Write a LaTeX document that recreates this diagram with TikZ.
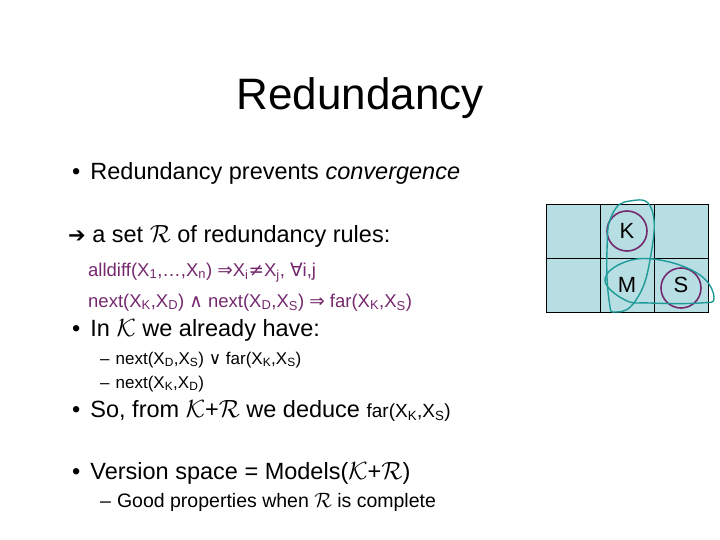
\documentclass[tikz,border=0pt]{standalone}
\usepackage{fontspec}
\setmainfont{Liberation Sans}
\newfontfamily\dv{DejaVu Sans}
\definecolor{pur}{HTML}{74296E}
\definecolor{teal2}{HTML}{1E9A98}
\definecolor{cellb}{HTML}{B7DEE3}
\newcommand{\cR}{$\mathcal{R}$}
\newcommand{\cK}{$\mathcal{K}$}
\begin{document}
\begin{tikzpicture}[x=1pt,y=-1pt,
  txt/.style={anchor=base west,inner sep=0pt,font=\fontsize{23.5}{26}\selectfont},
  rule/.style={anchor=base west,inner sep=0pt,text=pur,font=\fontsize{18.5}{21}\selectfont},
  sub/.style={anchor=base west,inner sep=0pt,font=\fontsize{17}{20}\selectfont},
  cell/.style={draw=black,fill=cellb,minimum size=54pt,inner sep=0pt,font=\fontsize{22}{24}\selectfont},
  ring/.style={draw=pur,line width=1.6pt,circle,minimum size=40pt}]
\useasboundingbox (0,0) rectangle (720,540);
\node[anchor=base,inner sep=0pt,font=\fontsize{44}{48}\selectfont] (title) at (360,110) {Redundancy};
\node[txt] (b1) at (72,180) {•\hspace{10pt}Redundancy prevents \textit{convergence}};
\node[txt] (b2) at (68,242) {{\dv\fontsize{21}{22}\selectfont ➔} a set \cR\ of redundancy rules:};
\node[rule] (r1) at (88,276) {alldiff(X\textsubscript{1},…,X\textsubscript{n}) {\dv⇒}X\textsubscript{i}{\dv≠}X\textsubscript{j},\ {\dv∀}i,j};
\node[rule] (r2) at (88,307) {next(X\textsubscript{K},X\textsubscript{D}) {\dv∧} next(X\textsubscript{D},X\textsubscript{S}) {\dv⇒} far(X\textsubscript{K},X\textsubscript{S})};
\node[txt] (b3) at (72,336) {•\hspace{10pt}In \cK\ we already have:};
\node[sub] (s1) at (100,364) {–\hspace{6pt}next(X\textsubscript{D},X\textsubscript{S}) {\dv∨} far(X\textsubscript{K},X\textsubscript{S})};
\node[sub] (s2) at (100,388) {–\hspace{6pt}next(X\textsubscript{K},X\textsubscript{D})};
\node[txt] (b4) at (72,417) {•\hspace{10pt}So,\ from \cK+\cR\ we deduce {\fontsize{19}{22}\selectfont far(X\textsubscript{K},X\textsubscript{S})}};
\node[txt] (b5) at (72,479) {•\hspace{10pt}Version space = Models(\cK+\cR)};
\node[sub,font=\fontsize{19.5}{22}\selectfont] (s3) at (100,507) {–\hspace{6pt}Good properties when \cR\ is complete};
% grid
\node[cell] (c11) at (573,231) {};
\node[cell] (c12) at (627,231) {K};
\node[cell] (c13) at (681,231) {};
\node[cell] (c21) at (573,285) {};
\node[cell] (c22) at (627,285) {M};
\node[cell] (c23) at (681,285) {S};
\node[ring] (rk) at (627,231) {};
\node[ring] (rs) at (681,288) {};
\draw[teal2,line width=1.4pt] plot[smooth cycle,tension=0.8] coordinates
 {(630,201) (652,210) (650,260) (636,300) (616,312) (609,300) (607,250) (612,215)};
\draw[teal2,line width=1.4pt] plot[smooth cycle,tension=0.7] coordinates
 {(605,280) (625,262) (660,260) (700,275) (714,298) (700,303) (650,303) (625,300)};
\end{tikzpicture}
\end{document}
